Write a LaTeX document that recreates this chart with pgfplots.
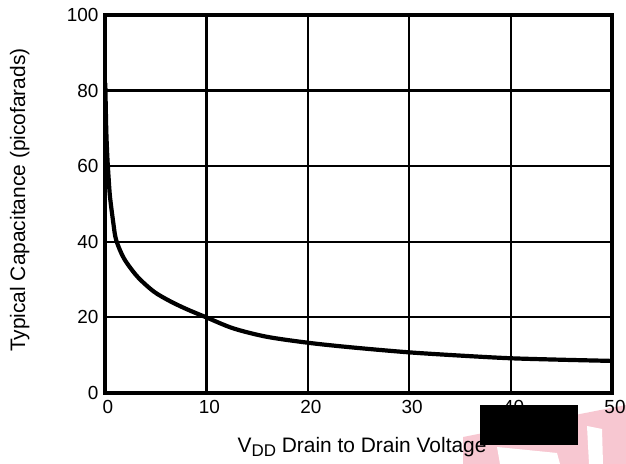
\documentclass[border=0pt]{standalone}
\usepackage{pgfplots}
\pgfplotsset{compat=1.18}
\usepackage{fontspec}
\setmainfont{Liberation Sans}
\definecolor{wmpink}{RGB}{247,199,209}
\begin{document}
\begin{tikzpicture}[x=1bp,y=1bp]
% faint watermark fragment (background)
\fill[wmpink] (358,-44) -- (521,-12) -- (521,-71) -- (358,-71) -- cycle;
\fill[white] (392,-54) -- (452,-60) -- (455,-71) -- (395,-71) -- cycle;
\fill[white] (482,-33) -- (497,-36) -- (498,-71) -- (484,-71) -- cycle;
\begin{axis}[
  at={(0,0)}, anchor=south west,
  scale only axis, width=507bp, height=378bp,
  xmin=0, xmax=50, ymin=0, ymax=100,
  xtick={0,10,20,30,40,50}, ytick={0,20,40,60,80,100},
  grid=major,
  major grid style={black, line width=2.2bp},
  axis line style={black, line width=3.2bp},
  major tick length=0pt,
  clip=false,
  /pgf/number format/assume math mode=true,
  tick label style={font=\fontsize{19}{19}\selectfont},
  xticklabel style={yshift=-4bp, xshift=3bp},
  yticklabel style={xshift=-3bp},
  xlabel={V{\fontsize{17}{17}\selectfont\raisebox{-4bp}{DD}} Drain to Drain Voltage},
  ylabel={Typical Capacitance (picofarads)},
  label style={font=\fontsize{21}{21}\selectfont},
  xlabel style={at={(axis description cs:0.507,-0.143)}, anchor=center},
  ylabel style={at={(axis description cs:-0.168,0.51)}, anchor=center, rotate=0},
]
\addplot[black, line width=4.2bp, smooth] coordinates {
 (0.03,82) (0.12,70) (0.22,63) (0.33,58) (0.49,52) (0.82,45) (1.1,40.5)
 (1.87,35.6) (3.19,30.8) (4.83,26.8) (6.48,24.2) (8.12,22.1) (10,20)
 (12.65,17.1) (15.9,14.9) (20,13.3) (24.2,12.1) (29.75,10.8) (35,9.9)
 (39.9,9.2) (45,8.8) (49.8,8.5)
};
\end{axis}
\fill[black] (375,-12) rectangle (473,-52);
\pgfresetboundingbox
\path[use as bounding box] (-105,-71) rectangle (521,393);
\end{tikzpicture}
\end{document}
